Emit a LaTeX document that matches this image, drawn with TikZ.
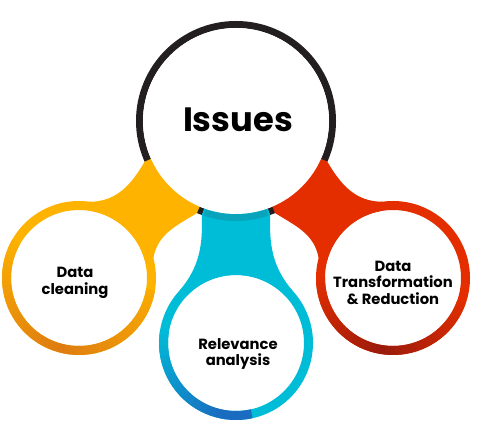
\documentclass[tikz,border=0pt]{standalone}
\usepackage{fontspec}
\setmainfont{Poppins}
\usetikzlibrary{calc,backgrounds}
\definecolor{ringblack}{HTML}{231F20}
\definecolor{ltorange}{HTML}{FDB300}
\definecolor{dkorange}{HTML}{DE7B12}
\definecolor{ltcyan}{HTML}{00BDD7}
\definecolor{dkblue}{HTML}{1A6CC0}
\definecolor{tealband}{HTML}{0AA3BC}
\definecolor{ltred}{HTML}{E42E00}
\definecolor{dkred}{HTML}{9A1B0C}
\begin{document}
\begin{tikzpicture}[disk/.style={circle, fill=white, inner sep=0pt, outer sep=0pt, minimum size=3.4cm},
 bigdisk/.style={disk, minimum size=4.65cm},
 lbl/.style={font=\fontsize{10.5}{11.5}\selectfont\bfseries, align=center, inner sep=0pt},
 ring/.style={line width=0.225cm}]
\useasboundingbox (0,0) rectangle (12.05,10.75);
\node[bigdisk] (issues) at (5.9,7.725) {};
\node[disk] (cleaning) at (1.975,3.8) {};
\node[disk] (relevance) at (5.9,2.175) {};
\node[disk] (transform) at (9.825,3.8) {};
\node[font=\fontsize{24}{28}\selectfont\bfseries, inner sep=0pt] (issuestext) at ($(issues.center)+(0.05,0.02)$) {Issues};
\node[lbl] (cleaningtext) at ($(cleaning.center)+(-0.1,-0.12)$) {Data\\cleaning};
\node[lbl] (relevancetext) at ($(relevance.center)+(0.05,-0.27)$) {Relevance\\analysis};
\node[lbl] (transformtext) at ($(transform.center)+(0,-0.12)$) {Data\\Transformation\\\& Reduction};
\begin{scope}[on background layer]
 \draw[ringblack, line width=0.175cm] (issues.center) circle (2.4125);
 % bridges to the three small circles
 \fill[ltorange] (issues.center) -- ($(issues.center)+(204:2.5)$) to[out=240,in=0] ($(cleaning.center)+(82:1.925)$)
   -- (cleaning.center) -- ($(cleaning.center)+(15:1.925)$) to[out=80,in=212] ($(issues.center)+(247:2.5)$) -- cycle;
 \fill[ltcyan] (issues.center) -- ($(issues.center)+(250:2.5)$) to[out=272,in=50] ($(relevance.center)+(137:1.925)$)
   -- (relevance.center) -- ($(relevance.center)+(43:1.925)$) to[out=130,in=268] ($(issues.center)+(290:2.5)$) -- cycle;
 \fill[ltred] (issues.center) -- ($(issues.center)+(336:2.5)$) to[out=300,in=180] ($(transform.center)+(98:1.925)$)
   -- (transform.center) -- ($(transform.center)+(165:1.925)$) to[out=100,in=328] ($(issues.center)+(293:2.5)$) -- cycle;
 \draw[tealband, line width=0.175cm] ($(issues.center)+(251:2.4125)$) arc[start angle=251, end angle=289, radius=2.4125];
\end{scope}
% rings with a darker part at the bottom
\draw[ring, ltorange] (cleaning.center) circle (1.8125);
\foreach \a in {150,154,...,346} {
 \pgfmathtruncatemacro\p{max(0,100-abs(\a+2-255)*0.9)}
 \draw[ring, dkorange!\p!ltorange] ($(cleaning.center)+(\a:1.8125)$) arc[start angle=\a, end angle=\a+4.5, radius=1.8125];
}
\draw[ring, ltcyan] (relevance.center) circle (1.8125);
\foreach \a in {170,174,...,278} {
 \pgfmathtruncatemacro\p{min(100,max(0,(\a-165)*1.1))}
 \draw[ring, dkblue!\p!ltcyan] ($(relevance.center)+(\a:1.8125)$) arc[start angle=\a, end angle=\a+4.5, radius=1.8125];
}
\draw[ring, ltred] (transform.center) circle (1.8125);
\foreach \a in {180,184,...,336} {
 \pgfmathtruncatemacro\p{max(0,100-abs(\a+2-262)*1.2)}
 \draw[ring, dkred!\p!ltred] ($(transform.center)+(\a:1.8125)$) arc[start angle=\a, end angle=\a+4.5, radius=1.8125];
}
\end{tikzpicture}
\end{document}
